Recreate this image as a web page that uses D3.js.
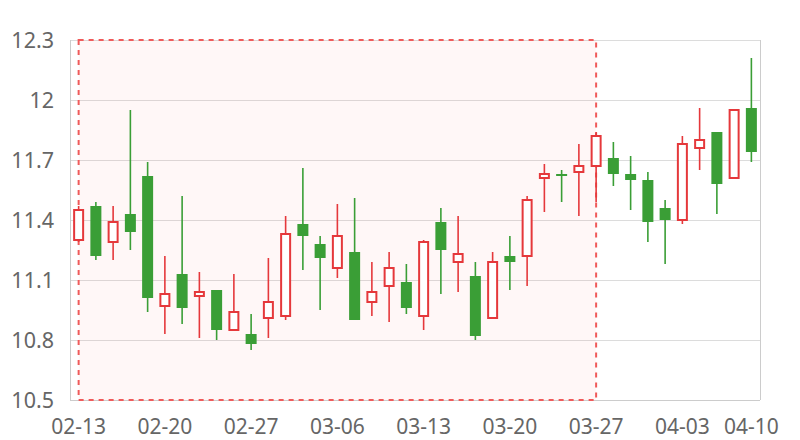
<!DOCTYPE html>
<html><head><meta charset="utf-8">
<script src="https://cdn.jsdelivr.net/npm/d3@7/dist/d3.min.js"></script>
<style>body{margin:0;background:#fff;}svg{display:block;}</style>
</head><body>
<svg id="chart" width="800" height="440"></svg>
<script>
const dates = ["02-13","02-14","02-15","02-16","02-17","02-20","02-21","02-22","02-23","02-24",
  "02-27","02-28","03-01","03-02","03-03","03-06","03-07","03-08","03-09","03-10",
  "03-13","03-14","03-15","03-16","03-17","03-20","03-21","03-22","03-23","03-24",
  "03-27","03-28","03-29","03-30","03-31","04-03","04-05","04-06","04-07","04-10"];
const openValues  = [11.30,11.47,11.29,11.43,11.62,10.97,11.13,11.02,11.05,10.85,
  10.83,10.91,10.92,11.38,11.28,11.16,11.24,10.99,11.07,11.09,
  10.92,11.39,11.19,11.12,10.91,11.22,11.22,11.61,11.63,11.64,
  11.67,11.71,11.63,11.60,11.46,11.40,11.76,11.84,11.61,11.96];
const closeValues = [11.45,11.22,11.39,11.34,11.01,11.03,10.96,11.04,10.85,10.94,
  10.78,10.99,11.33,11.32,11.21,11.32,10.90,11.04,11.16,10.96,
  11.29,11.25,11.23,10.82,11.19,11.19,11.50,11.63,11.62,11.67,
  11.82,11.63,11.60,11.39,11.40,11.78,11.80,11.58,11.95,11.74];
const highValues  = [11.47,11.49,11.47,11.95,11.69,11.22,11.52,11.14,11.05,11.13,
  10.93,11.21,11.42,11.66,11.32,11.48,11.51,11.19,11.24,11.18,
  11.30,11.46,11.42,11.19,11.24,11.32,11.52,11.68,11.65,11.78,
  11.84,11.79,11.72,11.64,11.50,11.82,11.96,11.84,11.95,12.21];
const lowValues   = [11.29,11.20,11.20,11.25,10.94,10.83,10.88,10.81,10.80,10.85,
  10.75,10.81,10.90,11.15,10.95,11.11,10.90,10.92,10.89,10.93,
  10.85,11.03,11.04,10.80,10.91,11.05,11.07,11.44,11.49,11.42,
  11.49,11.57,11.45,11.29,11.18,11.38,11.65,11.43,11.61,11.69];
const yTicks = [10.5,10.8,11.1,11.4,11.7,12,12.3];
const xTickLabels = ["02-13","02-20","02-27","03-06","03-13","03-20","03-27","04-03","04-10"];
const markAreaFrom = "02-13";
const markAreaTo = "03-27";

const svg = d3.select("#chart");
const mLeft = 70, mRight = 760, mTop = 40, mBottom = 400;
const x = d3.scaleBand().domain(dates).range([mLeft, mRight]).paddingInner(0).paddingOuter(0);
const y = d3.scaleLinear().domain([10.5, 12.3]).range([mBottom, mTop]);
const cx = d => x(d) + x.bandwidth() / 2;
const font = "'Noto Sans', 'DejaVu Sans', sans-serif";

// grid lines
svg.append("g").selectAll("line").data(yTicks).join("line")
  .attr("x1", mLeft).attr("x2", mRight)
  .attr("y1", d => y(d)).attr("y2", d => y(d))
  .attr("stroke", "#dcdcdc").attr("stroke-width", 1).attr("shape-rendering", "crispEdges");
// border
svg.append("line").attr("x1", mLeft).attr("x2", mLeft).attr("y1", mTop).attr("y2", mBottom)
  .attr("stroke", "#cccccc").attr("shape-rendering", "crispEdges");
svg.append("line").attr("x1", mRight).attr("x2", mRight).attr("y1", mTop).attr("y2", mBottom)
  .attr("stroke", "#cccccc").attr("shape-rendering", "crispEdges");
svg.append("line").attr("x1", mLeft).attr("x2", mRight).attr("y1", mBottom).attr("y2", mBottom)
  .attr("stroke", "#cccccc").attr("shape-rendering", "crispEdges");

// mark area
svg.append("rect")
  .attr("x", cx(markAreaFrom)).attr("y", mTop)
  .attr("width", cx(markAreaTo) - cx(markAreaFrom)).attr("height", mBottom - mTop)
  .attr("fill", "rgba(255,60,60,0.04)")
  .attr("stroke", "#f05a5a").attr("stroke-width", 2).attr("stroke-dasharray", "5,5");

// y labels
svg.append("g").selectAll("text").data(yTicks).join("text")
  .attr("x", 54).attr("y", d => y(d)).attr("dy", "0.36em")
  .attr("text-anchor", "end").attr("fill", "#666").attr("font-size", 21.5)
  .attr("font-family", font).text(d => d);

// x labels
svg.append("g").selectAll("text").data(xTickLabels).join("text")
  .attr("x", d => cx(d)).attr("y", 434)
  .attr("text-anchor", "middle").attr("fill", "#666").attr("font-size", 21)
  .attr("font-family", font).text(d => d);

const red = "#e5383b", green = "#3a9e36";
const candles = dates.map((d, i) => ({d, o: openValues[i], c: closeValues[i], h: highValues[i], l: lowValues[i]}));
const g = svg.append("g");
const up = c => c.c >= c.o;
// wicks
g.selectAll("line.wick").data(candles).join("line").attr("class", "wick")
  .attr("x1", c => cx(c.d)).attr("x2", c => cx(c.d))
  .attr("y1", c => y(c.h)).attr("y2", c => y(c.l))
  .attr("stroke", c => up(c) ? red : green).attr("stroke-width", 1.6);
// bodies
g.selectAll("rect.body").data(candles).join("rect").attr("class", "body")
  .attr("x", c => cx(c.d) - (up(c) ? 4.5 : 5.5))
  .attr("width", c => up(c) ? 9 : 11)
  .attr("y", c => y(Math.max(c.o, c.c)))
  .attr("height", c => Math.max(1, Math.abs(y(c.o) - y(c.c))))
  .attr("fill", c => up(c) ? "#fff" : green)
  .attr("stroke", c => up(c) ? red : "none")
  .attr("stroke-width", 2);
</script>
</body></html>
